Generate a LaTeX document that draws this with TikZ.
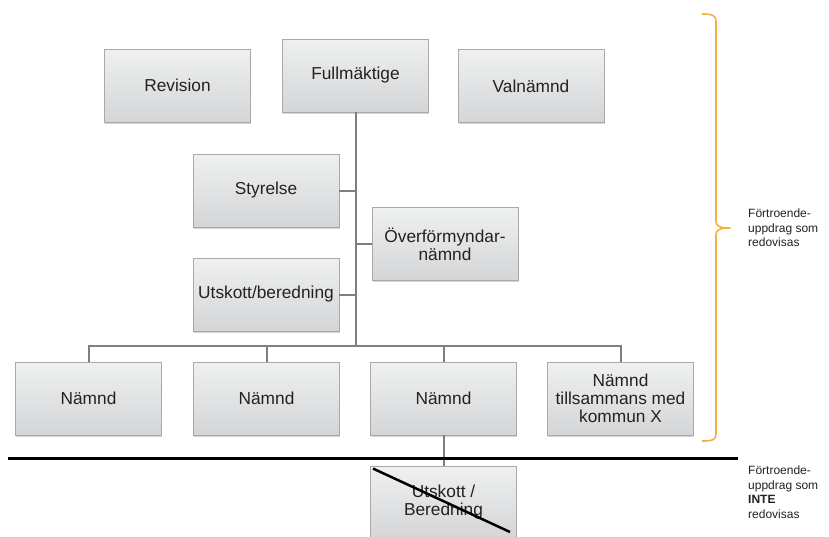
\documentclass[tikz,border=0pt]{standalone}
\usepackage{fontspec}
\setmainfont{Liberation Sans}
\usetikzlibrary{shadows}
\definecolor{boxtop}{HTML}{EFF0F0}
\definecolor{boxbot}{HTML}{D4D5D7}
\definecolor{boxline}{HTML}{A8A9AA}
\definecolor{conn}{HTML}{7F7F7F}
\definecolor{brace}{HTML}{F6B042}
\definecolor{txt}{HTML}{222222}
\begin{document}
\begin{tikzpicture}[x=1pt,y=-1pt,
  orgbox/.style={draw=boxline, line width=0.9pt, top color=boxtop, bottom color=boxbot,
    minimum width=146pt, minimum height=73pt, inner sep=2pt, align=center,
    font=\fontsize{17.3}{18}\selectfont, text=txt,
    drop shadow={shadow xshift=0.8pt, shadow yshift=-1.5pt, fill=black!35, opacity=0.45}},
  conline/.style={draw=conn, line width=2pt},
  sidetext/.style={anchor=north west, align=left, font=\fontsize{12}{14.5}\selectfont, text=txt, inner sep=0pt}
]
\clip (0,0) rectangle (829,536);
\fill[white] (0,0) rectangle (829,536);

\node[orgbox] (rev) at (177.5,85.5) {Revision};
\node[orgbox] (full) at (355.5,75.5) {Fullmäktige};
\node[orgbox] (val) at (531,86) {Valnämnd};
\node[orgbox] (sty) at (266,190.5) {Styrelse};
\node[orgbox] (ov) at (445,244) {Överförmyndar-\\nämnd};
\node[orgbox] (utb) at (266,294.5) {Utskott/beredning};
\node[orgbox] (n1) at (88.5,398.5) {Nämnd};
\node[orgbox] (n2) at (266.5,398.5) {Nämnd};
\node[orgbox] (n3) at (443.5,398.5) {Nämnd};
\node[orgbox] (n4) at (620.5,398.5) {Nämnd\\tillsammans med\\kommun X};
\node[orgbox] (ub) at (443.5,502.5) {Utskott /\\Beredning};

\coordinate (bus) at (355.5,346);
\path[conline] (full.south) -- (bus);
\path[conline] (sty.east) -- (sty.east -| full.south);
\path[conline] (utb.east) -- (utb.east -| full.south);
\path[conline] (ov.west) -- (ov.west -| full.south);
\path[conline] (n1.north) |- (bus) -| (n4.north);
\path[conline] (n2.north) -- (n2.north |- bus);
\path[conline] (n3.north) -- (n3.north |- bus);
\path[conline] (n3.south) -- (ub.north);

% separator line
\coordinate (sepL) at (8,458);
\coordinate (sepR) at (738,458);
\draw[black, line width=3pt] (sepL) -- (sepR);

% strike-through
\draw[black, line width=2.5pt] ([shift={(3,3)}]ub.north west) -- (510,532);

% brace
\draw[brace, line width=1.6pt, line join=round]
  (702,14) .. controls (712,14) and (716,15) .. (716,22) -- (716,221)
  .. controls (716,226) and (719,228) .. (730,228)
  .. controls (719,228) and (716,230) .. (716,235) -- (716,434)
  .. controls (716,440) and (712,441) .. (702,441);

\node[sidetext] (t1) at (748,209) {Förtroende-\\uppdrag som\\redovisas};
\node[sidetext] (t2) at (748,466) {Förtroende-\\uppdrag som\\\textbf{INTE}\\redovisas};
\end{tikzpicture}
\end{document}
